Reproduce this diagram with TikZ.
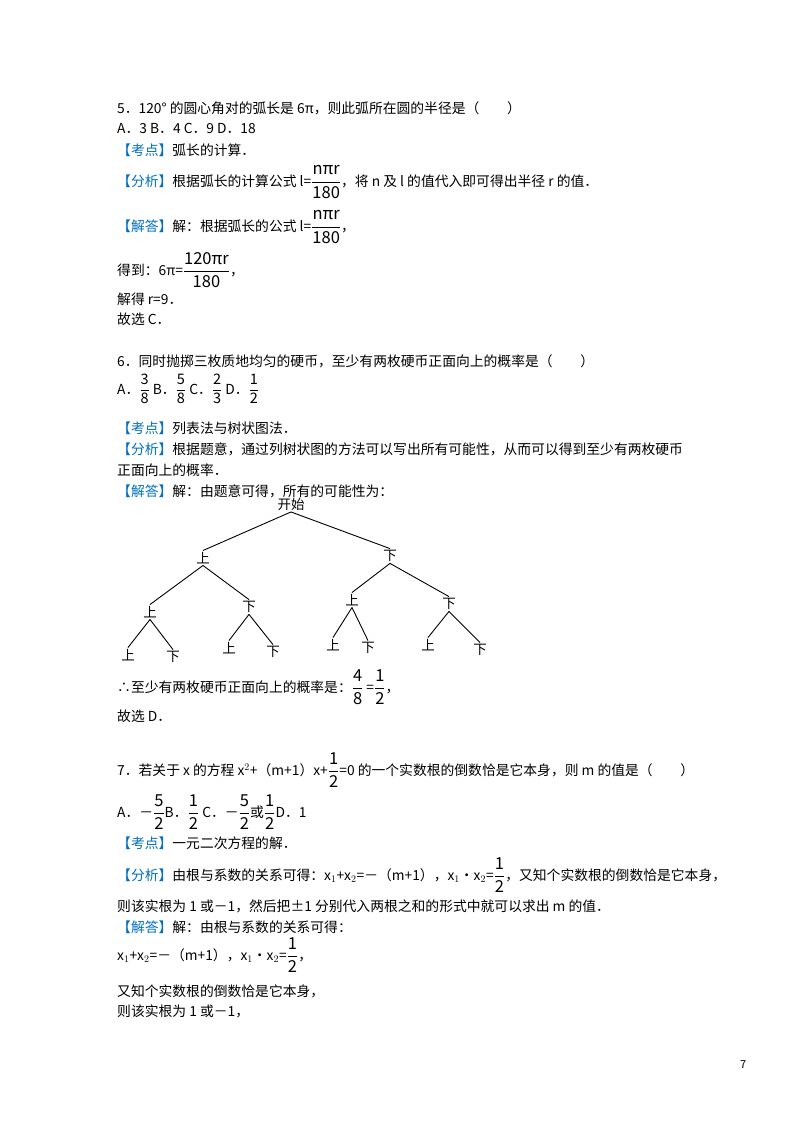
\documentclass[tikz,border=0pt]{standalone}
\usepackage{amsmath}
\usepackage{fontspec}
\setmainfont{Noto Sans CJK SC}
\definecolor{kblue}{RGB}{0,112,192}
\newcommand\kb[1]{\textcolor{kblue}{【#1】}}
\newcommand\fr[2]{{\fontsize{16.5}{18}\selectfont$\dfrac{\mbox{#1}}{\mbox{#2}}$}}
\newcommand\frs[2]{{\fontsize{14.5}{16}\selectfont$\dfrac{\mbox{#1}}{\mbox{#2}}$}}
\begin{document}
\begin{tikzpicture}[x=1pt,y=-1pt,
  ln/.style={anchor=west,inner sep=0pt,font=\fontsize{13.8}{15}\selectfont},
  tn/.style={inner sep=1.5pt,font=\fontsize{13.5}{15}\selectfont},
  br/.style={line width=0.9pt}]
\useasboundingbox[fill=white] (0,0) rectangle (800,1132);
\node[ln] (l1) at (117,108) {5．120° 的圆心角对的弧长是 6π，则此弧所在圆的半径是（\quad\quad）};
\node[ln] (l2) at (117,128) {A．3 B．4 C．9 D．18};
\node[ln] (l3) at (117,150) {\kb{考点}弧长的计算．};
\node[ln] (l4) at (117,182) {\kb{分析}根据弧长的计算公式 l=\fr{nπr}{180}，将 n 及 l 的值代入即可得出半径 r 的值．};
\node[ln] (l5) at (117,227) {\kb{解答}解：根据弧长的公式 l=\fr{nπr}{180}，};
\node[ln] (l6) at (117,270) {得到：6π=\fr{120πr}{180}，};
\node[ln] (l7) at (117,299) {解得 r=9．};
\node[ln] (l8) at (117,319) {故选 C．};
\node[ln] (m1) at (117,361) {6．同时抛掷三枚质地均匀的硬币，至少有两枚硬币正面向上的概率是（\quad\quad）};
\node[ln] (m2) at (117,389) {A．\frs38 B．\frs58 C．\frs23 D．\frs12};
\node[ln] (m3) at (117,428) {\kb{考点}列表法与树状图法．};
\node[ln] (m4) at (117,449) {\kb{分析}根据题意，通过列树状图的方法可以写出所有可能性，从而可以得到至少有两枚硬币};
\node[ln] (m5) at (117,470) {正面向上的概率．};
\node[ln] (m6) at (117,491) {\kb{解答}解：由题意可得，所有的可能性为：};
% tree
\node[tn] (r) at (291,504) {开始};
\node[tn] (a) at (203,558) {上};
\node[tn] (b) at (390,556) {下};
\node[tn] (aa) at (150,612) {上};
\node[tn] (ab) at (249,607) {下};
\node[tn] (ba) at (352,600) {上};
\node[tn] (bb) at (449,604) {下};
\node[tn] (aaa) at (128,655) {上};
\node[tn] (aab) at (173,657) {下};
\node[tn] (aba) at (229,648) {上};
\node[tn] (abb) at (273,652) {下};
\node[tn] (baa) at (333,645) {上};
\node[tn] (bab) at (368,648) {下};
\node[tn] (bba) at (428,645) {上};
\node[tn] (bbb) at (480,650) {下};
\foreach \p/\c in {r/a,r/b,a/aa,a/ab,b/ba,b/bb,aa/aaa,aa/aab,ab/aba,ab/abb,ba/baa,ba/bab,bb/bba,bb/bbb}
  \draw[br] (\p.south) -- (\c.north);
\node[ln] (m7) at (117,687) {∴至少有两枚硬币正面向上的概率是：\fr48 =\fr12，};
\node[ln] (m8) at (117,716) {故选 D．};
\node[ln] (n1) at (117,770) {7．若关于 x 的方程 x$^2$+（m+1）x+\fr12=0 的一个实数根的倒数恰是它本身，则 m 的值是（\quad\quad）};
\node[ln] (n2) at (117,812) {A．－\fr52B．\fr12 C．－\fr52或\fr12D．1};
\node[ln] (n3) at (117,843) {\kb{考点}一元二次方程的解．};
\node[ln] (n4) at (117,875) {\kb{分析}由根与系数的关系可得：x$_1$+x$_2$=－（m+1），x$_1$•x$_2$=\fr12，又知个实数根的倒数恰是它本身，};
\node[ln] (n5) at (117,906) {则该实根为 1 或－1，然后把±1 分别代入两根之和的形式中就可以求出 m 的值．};
\node[ln] (n6) at (117,927) {\kb{解答}解：由根与系数的关系可得：};
\node[ln] (n7) at (117,955) {x$_1$+x$_2$=－（m+1），x$_1$•x$_2$=\fr12，};
\node[ln] (n8) at (117,991) {又知个实数根的倒数恰是它本身，};
\node[ln] (n9) at (117,1011) {则该实根为 1 或－1，};
\node[ln,font=\fontsize{11}{13}\selectfont] (pg) at (740,1065) {7};
\end{tikzpicture}
\end{document}
